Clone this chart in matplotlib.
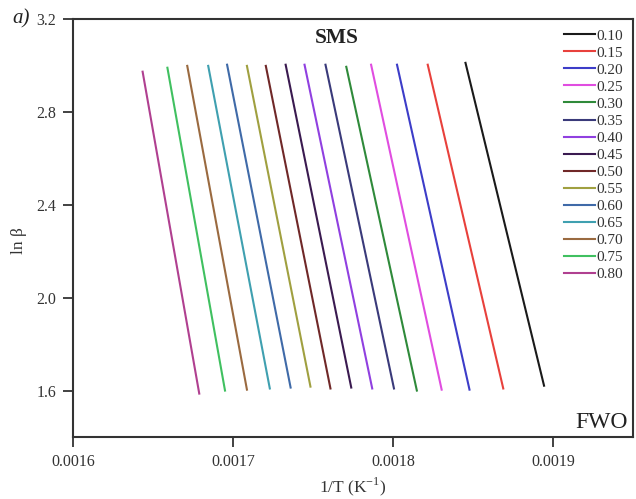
import numpy as np
import matplotlib
matplotlib.use("Agg")
import matplotlib.pyplot as plt

plt.rcParams['font.family'] = ['Liberation Serif', 'DejaVu Serif']
plt.rcParams['mathtext.fontset'] = 'custom'
plt.rcParams['mathtext.rm'] = 'Liberation Serif'

# conversion degrees (legend)
alphas = ['0.10', '0.15', '0.20', '0.25', '0.30', '0.35', '0.40', '0.45',
          '0.50', '0.55', '0.60', '0.65', '0.70', '0.75', '0.80']

# 1/T at the top (high ln beta) and bottom (low ln beta) end of each fitted line
inv_t_top = [0.0018453, 0.0018217, 0.0018025, 0.0017863, 0.0017708, 0.0017578,
             0.0017447, 0.0017329, 0.0017205, 0.0017087, 0.0016963, 0.0016845,
             0.0016714, 0.0016590, 0.0016435]
inv_t_bot = [0.0018944, 0.0018689, 0.0018478, 0.0018304, 0.0018149, 0.0018006,
             0.0017870, 0.0017739, 0.0017609, 0.0017484, 0.0017360, 0.0017230,
             0.0017087, 0.0016950, 0.0016789]
ln_beta_top = [3.011, 3.003, 3.003, 3.003, 2.994, 3.003, 3.003, 3.003,
               2.998, 2.998, 3.003, 2.998, 2.998, 2.990, 2.973]
ln_beta_bot = [1.621, 1.609, 1.604, 1.604, 1.600, 1.609, 1.609, 1.613,
               1.609, 1.617, 1.613, 1.609, 1.604, 1.600, 1.587]

colors = ['#1a1a1a', '#e8413c', '#3d3dc8', '#e04de0', '#2f8a3a', '#3a3a7a',
          '#9040e0', '#3a1a50', '#702828', '#a0a040', '#3f6aa8', '#3fa0b0',
          '#9a6a40', '#40c060', '#b04090']

fig = plt.figure(figsize=(6.36, 4.99), dpi=100)
ax = fig.add_axes([0.1148, 0.1242, 0.8805, 0.8378])

for i in range(len(alphas)):
    ax.plot([inv_t_top[i], inv_t_bot[i]], [ln_beta_top[i], ln_beta_bot[i]],
            color=colors[i], lw=1.5, label=alphas[i])

ax.set_xlim(0.0016, 0.00195)
ax.set_ylim(1.4, 3.2)
ax.set_xticks([0.0016, 0.0017, 0.0018, 0.0019])
ax.set_xticklabels(['0.0016', '0.0017', '0.0018', '0.0019'])
ax.set_yticks([1.6, 2.0, 2.4, 2.8, 3.2])
ax.tick_params(direction='out', length=7, width=1.3, labelsize=11.5,
               colors='#333333')
ax.tick_params(axis='x', pad=5)
ax.tick_params(axis='y', pad=5)
for s in ax.spines.values():
    s.set_linewidth(1.5)
    s.set_color('#333333')

ax.set_xlabel('1/T (K$^{-1}$)', fontsize=12.5, color='#333333')
ax.xaxis.set_label_coords(0.5, -0.093)
ax.set_ylabel('ln β', fontsize=12.5, color='#333333')
ax.yaxis.set_label_coords(-0.082, 0.47)

ax.text(0.471, 0.955, 'SMS', transform=ax.transAxes, fontsize=15.5,
        fontweight='bold', ha='center', va='center', color='#222222')
ax.text(0.991, 0.0215, 'FWO', transform=ax.transAxes, fontsize=17,
        ha='right', va='baseline', color='#222222')
fig.text(0.02, 0.962, 'a)', fontsize=15, style='italic', ha='left',
         va='center', color='#222222')

leg = ax.legend(loc='upper right', frameon=False, fontsize=11,
                labelspacing=0.22, handlelength=2.0, handletextpad=0.1,
                borderaxespad=0.25)
for t in leg.get_texts():
    t.set_color('#333333')

fig.savefig('out.png', dpi=100)
